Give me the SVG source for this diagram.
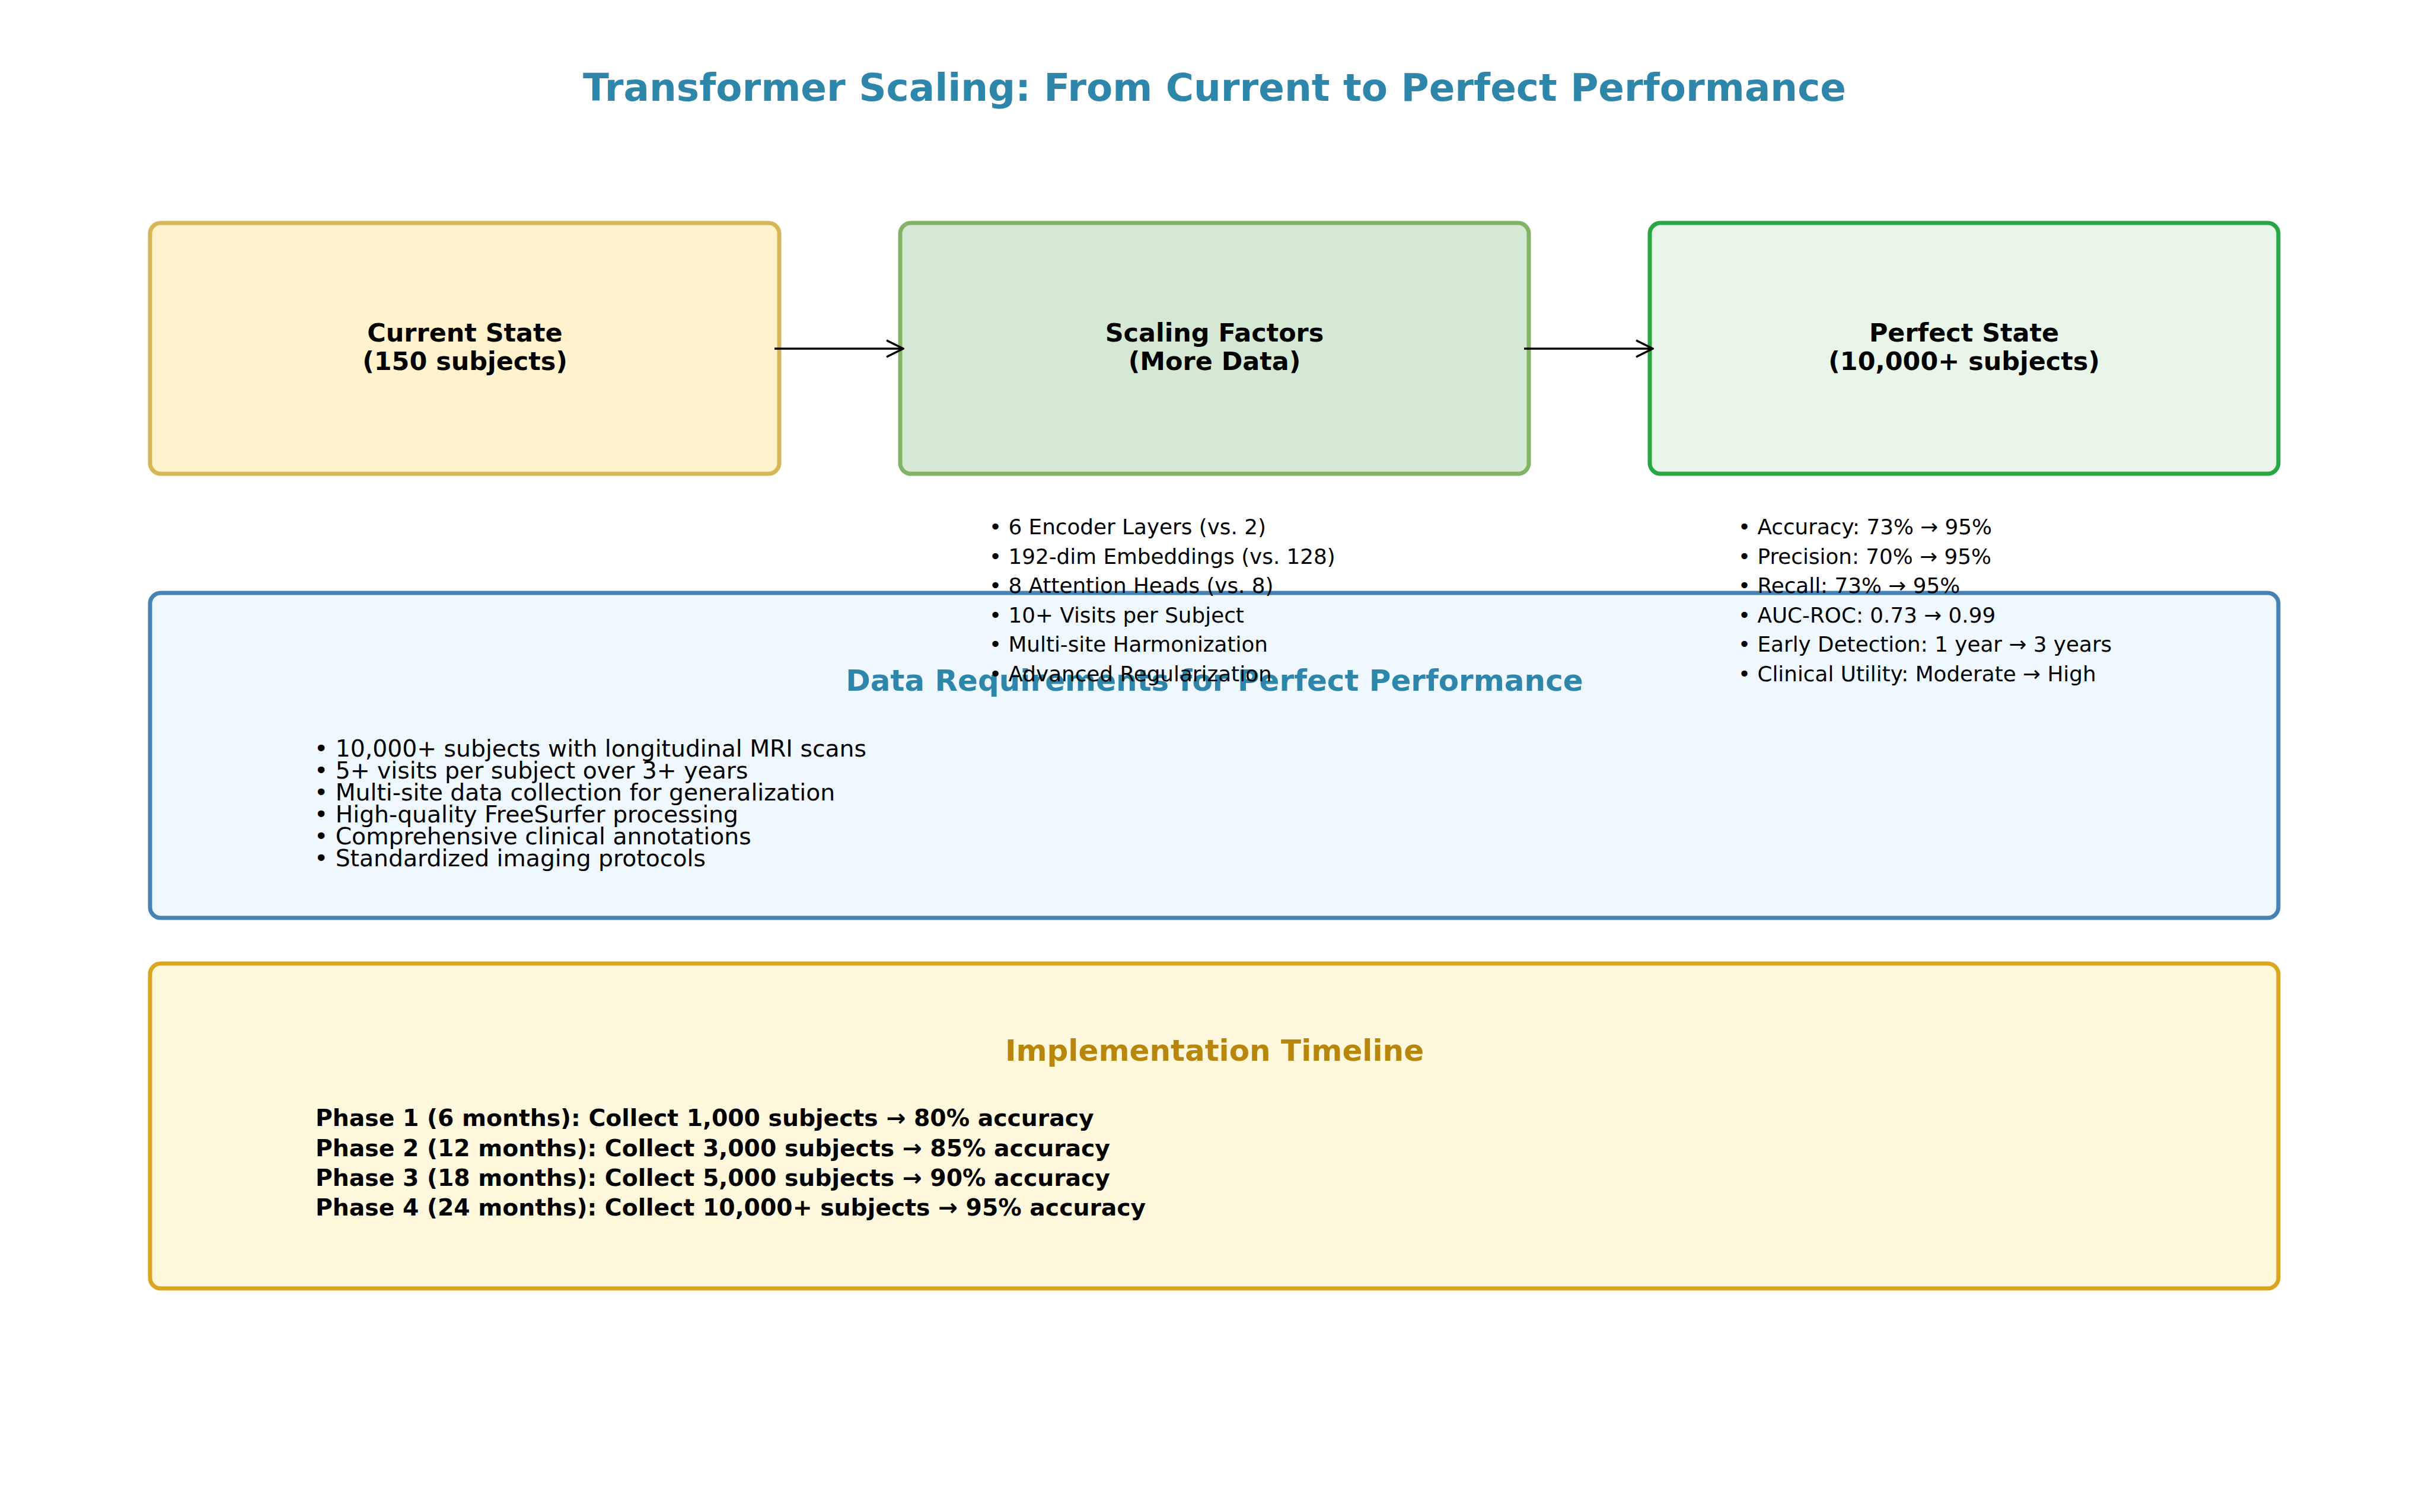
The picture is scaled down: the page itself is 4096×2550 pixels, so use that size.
<svg xmlns="http://www.w3.org/2000/svg" width="4096" height="2550" viewBox="0 0 4096 2550">
<defs>
<style>
text{font-family:"DejaVu Sans","Liberation Sans",sans-serif;fill:#000}
.title{font-size:64.4px;font-weight:bold;fill:#2E86AB;text-anchor:middle}
.node{font-size:42.9px;font-weight:bold;text-anchor:middle}
.bul{font-size:35.75px}
.sec{font-size:50px;font-weight:bold;text-anchor:middle}
.dat{font-size:39.3px}
.ph{font-size:39.3px;font-weight:bold}
.box{stroke-width:7}
.conn{stroke:#000;stroke-width:3.6;fill:none}
</style>
<marker id="arr" viewBox="0 0 32 32" refX="30" refY="16" markerWidth="32" markerHeight="32" markerUnits="userSpaceOnUse" orient="auto">
<path d="M2,2 L30,16 L2,30" fill="none" stroke="#000" stroke-width="3.6"/>
</marker>
</defs>
<rect width="4096" height="2550" fill="#fff"/>
<text class="title" x="2048" y="170">Transformer Scaling: From Current to Perfect Performance</text>

<g id="current-state">
<rect class="box" x="253" y="376" width="1061" height="423" rx="18" fill="#FFF2CC" stroke="#D6B656"/>
<text class="node" x="784" y="576">Current State</text>
<text class="node" x="784" y="624">(150 subjects)</text>
</g>
<g id="scaling-factors">
<rect class="box" x="1518" y="376" width="1060" height="423" rx="18" fill="#D5E8D4" stroke="#82B366"/>
<text class="node" x="2048" y="576">Scaling Factors</text>
<text class="node" x="2048" y="624">(More Data)</text>
</g>
<g id="perfect-state">
<rect class="box" x="2782" y="376" width="1060" height="423" rx="18" fill="#E8F5E8" stroke="#28A745"/>
<text class="node" x="3312" y="576">Perfect State</text>
<text class="node" x="3312" y="624">(10,000+ subjects)</text>
</g>

<g id="connectors">
<line class="conn" x1="1306" y1="588" x2="1523" y2="588" marker-end="url(#arr)"/>
<line class="conn" x1="2570" y1="588" x2="2787" y2="588" marker-end="url(#arr)"/>
</g>

<g id="data-requirements">
<rect class="box" x="253" y="1000" width="3589" height="548" rx="18" fill="#EFF7FF" stroke="#4682B4"/>
<text class="sec" x="2048" y="1165" style="fill:#2E86AB">Data Requirements for Perfect Performance</text>
<text class="dat" x="530" y="1276">• 10,000+ subjects with longitudinal MRI scans</text>
<text class="dat" x="530" y="1313">• 5+ visits per subject over 3+ years</text>
<text class="dat" x="530" y="1350">• Multi-site data collection for generalization</text>
<text class="dat" x="530" y="1387">• High-quality FreeSurfer processing</text>
<text class="dat" x="530" y="1424">• Comprehensive clinical annotations</text>
<text class="dat" x="530" y="1461">• Standardized imaging protocols</text>
</g>

<g id="scaling-details">
<text class="bul" x="1668" y="901">• 6 Encoder Layers (vs. 2)</text>
<text class="bul" x="1668" y="950.5">• 192-dim Embeddings (vs. 128)</text>
<text class="bul" x="1668" y="1000">• 8 Attention Heads (vs. 8)</text>
<text class="bul" x="1668" y="1049.5">• 10+ Visits per Subject</text>
<text class="bul" x="1668" y="1099">• Multi-site Harmonization</text>
<text class="bul" x="1668" y="1148.5">• Advanced Regularization</text>
</g>

<g id="performance-details">
<text class="bul" x="2931" y="901">• Accuracy: 73% → 95%</text>
<text class="bul" x="2931" y="950.5">• Precision: 70% → 95%</text>
<text class="bul" x="2931" y="1000">• Recall: 73% → 95%</text>
<text class="bul" x="2931" y="1049.5">• AUC-ROC: 0.73 → 0.99</text>
<text class="bul" x="2931" y="1099">• Early Detection: 1 year → 3 years</text>
<text class="bul" x="2931" y="1148.5">• Clinical Utility: Moderate → High</text>
</g>

<g id="timeline">
<rect class="box" x="253" y="1625" width="3589" height="548" rx="18" fill="#FFF8DC" stroke="#DAA520"/>
<text class="sec" x="2048" y="1789" style="fill:#B8860B">Implementation Timeline</text>
<text class="ph" x="532" y="1899">Phase 1 (6 months): Collect 1,000 subjects → 80% accuracy</text>
<text class="ph" x="532" y="1949.5">Phase 2 (12 months): Collect 3,000 subjects → 85% accuracy</text>
<text class="ph" x="532" y="1999.5">Phase 3 (18 months): Collect 5,000 subjects → 90% accuracy</text>
<text class="ph" x="532" y="2049.5">Phase 4 (24 months): Collect 10,000+ subjects → 95% accuracy</text>
</g>
</svg>
